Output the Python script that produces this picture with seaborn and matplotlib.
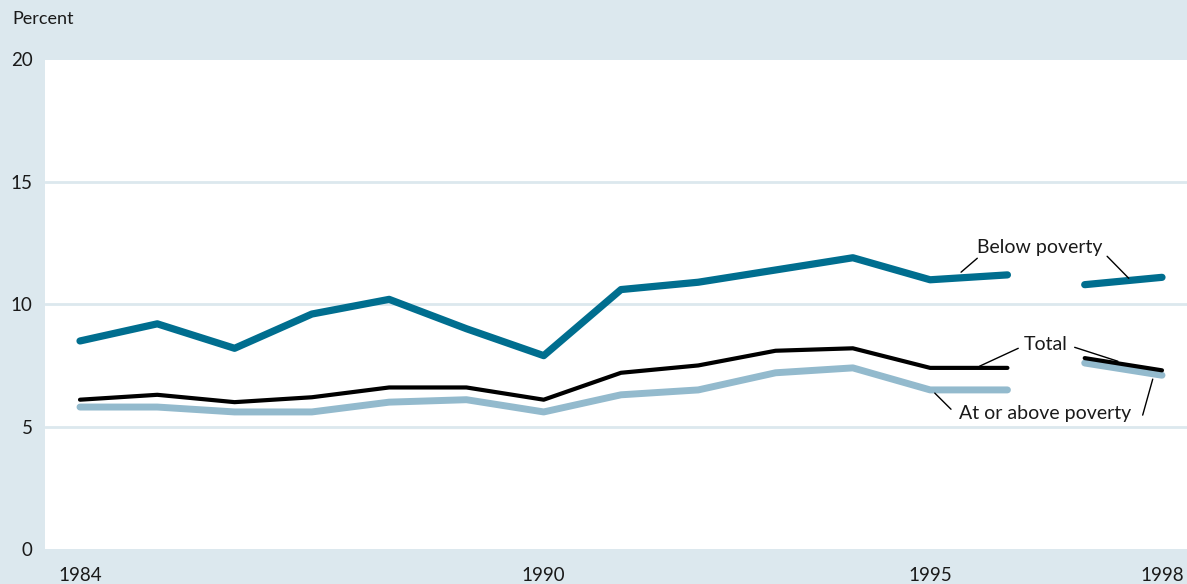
import seaborn as sns
import pandas as pd
from matplotlib import pyplot as plt

years = [1984, 1985, 1986, 1987, 1988, 1989, 1990, 1991, 1992, 1993, 1994, 1995, 1996, 1997, 1998]
below_poverty = [8.5, 9.2, 8.2, 9.6, 10.2, 9.0, 7.9, 10.6, 10.9, 11.4, 11.9, 11.0, 11.2, 10.8, 11.1]
total = [6.1, 6.3, 6.0, 6.2, 6.6, 6.6, 6.1, 7.2, 7.5, 8.1, 8.2, 7.4, 7.4, 7.8, 7.3]
at_or_above = [5.8, 5.8, 5.6, 5.6, 6.0, 6.1, 5.6, 6.3, 6.5, 7.2, 7.4, 6.5, 6.5, 7.6, 7.1]
labeled_years = [1984, 1990, 1995, 1998]
# series break between 1996 and 1997
segment = [1 if y <= 1996 else 2 for y in years]

BG = '#dce8ee'
GRID = '#dce8ee'
TEXT = '#1a1a1a'

sns.set_style('white')
plt.rcParams['font.family'] = ['Lato', 'DejaVu Sans']

df = pd.DataFrame({
    'year': years * 3,
    'value': below_poverty + total + at_or_above,
    'series': ['Below poverty'] * 15 + ['Total'] * 15 + ['At or above poverty'] * 15,
    'segment': segment * 3,
})

styles = {
    'At or above poverty': ('#93bacd', 5.0),
    'Below poverty': ('#006e8f', 5.2),
    'Total': ('#000000', 3.0),
}

fig = plt.figure(figsize=(11.87, 5.84), dpi=100, facecolor=BG)
ax = fig.add_axes([45 / 1187, 35 / 584, 1 - 45 / 1187, (549 - 59.5) / 584])
ax.set_facecolor('white')

for name, (col, lw) in styles.items():
    for seg in [1, 2]:
        sub = df[(df['series'] == name) & (df['segment'] == seg)]
        sns.lineplot(data=sub, x='year', y='value', color=col, lw=lw, ax=ax,
                     legend=False, solid_capstyle='round', solid_joinstyle='round', zorder=3)

ax.set_xlim(1984 - 35 / 77.29, 1998 + 25 / 77.29)
ax.set_ylim(0, 20)
ax.set_yticks([0, 5, 10, 15, 20])
ax.set_xticks(years)
ax.set_xticklabels([str(y) if y in labeled_years else '' for y in years])
for v in [5, 10, 15]:
    ax.axhline(v, color=GRID, lw=2, zorder=1)

ax.tick_params(axis='x', direction='in', length=10, width=1.5, color=GRID, pad=13,
               labelsize=13.5, labelcolor=TEXT)
ax.tick_params(axis='y', length=0, pad=9, labelsize=13.5, labelcolor=TEXT)
for s in ax.spines.values():
    s.set_visible(False)
ax.set_xlabel('')
ax.set_ylabel('')

fig.text(12 / 1187, 1 - 19 / 584, 'Percent', ha='left', va='center', fontsize=13, color=TEXT)

# labels with leader lines
ax.text(1996.42, 12.33, 'Below poverty', ha='center', va='center', fontsize=14, color=TEXT)
ax.text(1996.50, 8.37, 'Total', ha='center', va='center', fontsize=14, color=TEXT)
ax.text(1996.49, 5.55, 'At or above poverty', ha='center', va='center', fontsize=14, color=TEXT)
leaders = [
    ((1995.61, 11.88), (1995.40, 11.31)),
    ((1997.29, 11.96), (1997.57, 11.06)),
    ((1996.14, 8.20), (1995.64, 7.47)),
    ((1996.87, 8.24), (1997.43, 7.67)),
    ((1995.27, 5.71), (1995.06, 6.37)),
    ((1997.75, 5.47), (1997.88, 6.94)),
]
for (x0, y0), (x1, y1) in leaders:
    ax.plot([x0, x1], [y0, y1], color='black', lw=1, zorder=4)

fig.savefig('out.png', dpi=100, facecolor=BG)
